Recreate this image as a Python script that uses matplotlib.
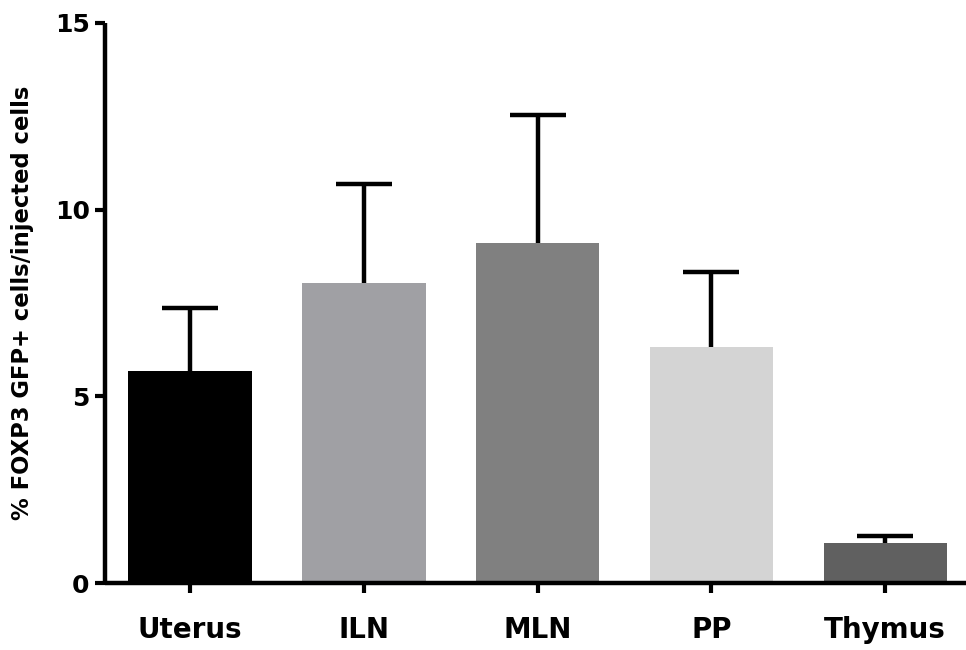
import numpy as np
import matplotlib.pyplot as plt

# Data
tissues = ["Uterus", "ILN", "MLN", "PP", "Thymus"]
means = [5.67, 8.04, 9.10, 6.31, 1.07]
upper = [7.37, 10.68, 12.53, 8.34, 1.26]   # top of error bars
colors = ["#000000", "#a0a0a4", "#808080", "#d4d4d4", "#606060"]

errs = [u - m for u, m in zip(upper, means)]
x = np.arange(len(tissues))

plt.rcParams['font.family'] = ['DejaVu Sans']
plt.rcParams['font.weight'] = 'bold'

fig = plt.figure(figsize=(9.66, 6.5), dpi=100)
ax = fig.add_axes([0.1087, 0.103, 0.8913, 0.8617])

ax.bar(x, means, width=0.71, color=colors, zorder=2)
eb = ax.errorbar(x, means, yerr=[np.zeros(len(x)), errs], fmt='none', ecolor='black',
                 elinewidth=3.2, capsize=20, capthick=3.2, zorder=3)
# only the upper cap is shown
eb[1][0].set_visible(False)

ax.set_xlim(-0.49, 4.465)
ax.set_ylim(0, 15)
ax.set_yticks([0, 5, 10, 15])
ax.set_xticks(x)
ax.set_xticklabels(tissues)

for side in ['top', 'right']:
    ax.spines[side].set_visible(False)
for side in ['left', 'bottom']:
    ax.spines[side].set_linewidth(3.2)
    ax.spines[side].set_capstyle('butt')

ax.tick_params(axis='y', length=7, width=3, labelsize=18, pad=4)
ax.tick_params(axis='x', length=7, width=3, labelsize=20, pad=17)
for lab in ax.get_xticklabels() + ax.get_yticklabels():
    lab.set_fontweight('bold')

ax.set_ylabel("% FOXP3 GFP+ cells/injected cells", fontsize=16.3, fontweight='bold', labelpad=15)

fig.savefig("out.png", dpi=100)
